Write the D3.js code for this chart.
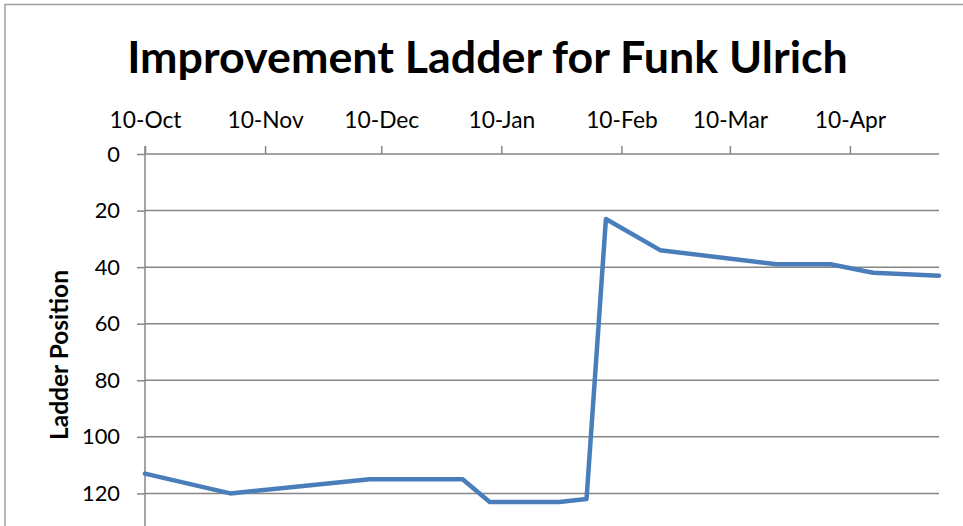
<!DOCTYPE html>
<html><head><meta charset="utf-8">
<script src="https://cdn.jsdelivr.net/npm/d3@7"></script>
<style>body{margin:0;background:#fff;overflow:hidden;} svg{display:block;}</style>
</head><body>
<svg id="c" width="963" height="526"></svg>
<script>
const dates = ["2012-10-10","2012-11-01","2012-12-07","2012-12-31","2013-01-07","2013-01-25","2013-02-01","2013-02-06","2013-02-20","2013-03-22","2013-04-05","2013-04-16","2013-05-03"];
const positions = [113,120,115,115,123,123,122,23,34,39,39,42,43];
const xTickDates = ["2012-10-10","2012-11-10","2012-12-10","2013-01-10","2013-02-10","2013-03-10","2013-04-10"];
const yTicks = [0,20,40,60,80,100,120];
const yMax = 140;
const title = "Improvement Ladder for Funk Ulrich";
const yTitle = "Ladder Position";

const parse = d3.timeParse("%Y-%m-%d");
const data = dates.map((d,i)=>({date:parse(d), value:positions[i]}));
const svg = d3.select("#c");
const L = 145, R = 939, T = 154, B = 550;
const gray = "#868686";
const font = "Lato, 'Open Sans', sans-serif";

function fitSize(sel, base, target, text) {
  const tmp = svg.append("text").attr("font-family",font).attr("font-size",base).text(text);
  const w = tmp.node().getComputedTextLength();
  tmp.remove();
  return base*target/w;
}

// chart frame
svg.append("rect").attr("x",5).attr("y",4.5).attr("width",1200).attr("height",800)
  .attr("fill","#fff").attr("stroke","#a0a0a0").attr("stroke-width",1.5);

const x = d3.scaleTime().domain(d3.extent(data,d=>d.date)).range([L,R]);
const y = d3.scaleLinear().domain([0,yMax]).range([T,B]);

// gridlines
svg.append("g").selectAll("line").data(yTicks.concat([yMax])).join("line")
  .attr("x1",L).attr("x2",R).attr("y1",d=>y(d)).attr("y2",d=>y(d))
  .attr("stroke",gray).attr("stroke-width",1.5);

const ySize = fitSize(svg, 23, 38, "100");
const xSize = fitSize(svg, 23, 72, "10-Oct");

// y axis
const ya = svg.append("g").attr("transform",`translate(${L},0)`)
  .call(d3.axisLeft(y).tickValues(yTicks).tickSize(8).tickPadding(17).tickFormat(d3.format("d")));
ya.select(".domain").remove();
ya.selectAll(".tick line").attr("stroke",gray).attr("stroke-width",1.5);
ya.selectAll(".tick text").attr("font-family",font).attr("font-size",ySize).attr("fill","#000");
svg.append("line").attr("x1",L).attr("x2",L).attr("y1",T-8).attr("y2",B)
  .attr("stroke",gray).attr("stroke-width",1.5);

// x axis top
const xa = svg.append("g").attr("transform",`translate(0,${T})`)
  .call(d3.axisTop(x).tickValues(xTickDates.map(parse)).tickSize(8).tickPadding(18).tickFormat(d3.timeFormat("%-d-%b")));
xa.select(".domain").remove();
xa.selectAll(".tick line").attr("stroke",gray).attr("stroke-width",1.5);
xa.selectAll(".tick text").attr("font-family",font).attr("font-size",xSize).attr("fill","#000");

// line
svg.append("path").datum(data)
  .attr("d", d3.line().x(d=>x(d.date)).y(d=>y(d.value)))
  .attr("fill","none").attr("stroke","#4a7ebb").attr("stroke-width",4.5)
  .attr("stroke-linejoin","round").attr("stroke-linecap","round");

// title
const t = svg.append("text").attr("x",487.5).attr("y",73).attr("text-anchor","middle")
  .attr("font-family",font).attr("font-weight","bold").attr("font-size",40).attr("fill","#000").text(title);
const tw = t.node().getComputedTextLength();
t.attr("font-size", 40*721/tw);

// y title
const yt = svg.append("text").attr("transform","translate(58,355) rotate(-90)")
  .attr("text-anchor","middle").attr("dominant-baseline","central")
  .attr("font-family",font).attr("font-weight","bold").attr("font-size",22).attr("fill","#000").text(yTitle);
const ytw = yt.node().getComputedTextLength();
yt.attr("font-size", 22*170/ytw);
</script>
</body></html>
